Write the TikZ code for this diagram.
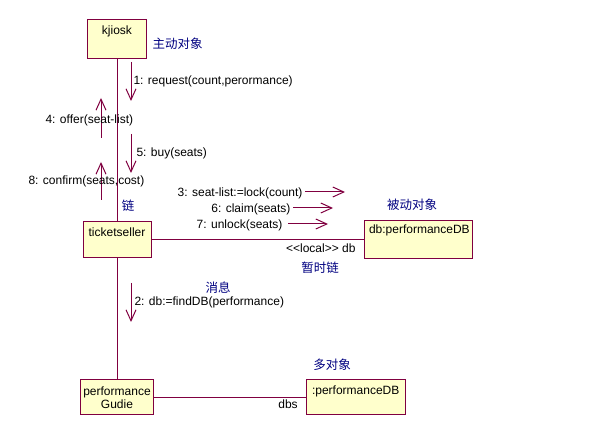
\documentclass[tikz,border=0pt]{standalone}
\usepackage{fontspec}
\setmainfont{Liberation Sans}[Ligatures=TeXOff]
\newfontfamily\cjk{Noto Sans CJK SC}
\usetikzlibrary{arrows.meta}
\definecolor{umlline}{RGB}{128,0,64}
\definecolor{umlfill}{RGB}{255,255,204}
\definecolor{notecol}{RGB}{0,0,128}
\begin{document}
\begin{tikzpicture}[x=1pt,y=-1pt,line width=1pt,
  obj/.style={draw=umlline,fill=umlfill,inner sep=3pt,font=\fontsize{12}{13}\selectfont},
  lnk/.style={draw=umlline},
  msg/.style={draw=umlline,-{Straight Barb[length=11pt,width=10pt]}},
  txt/.style={inner sep=0pt,font=\fontsize{12}{13}\selectfont},
  note/.style={inner sep=0pt,text=notecol,font=\cjk\fontsize{12.5}{14}\selectfont}]
  \useasboundingbox (0,0) rectangle (611,435);
  % objects
  \node[obj,minimum width=59pt,text height=12pt,text depth=21pt] (kjiosk) at (117,39.5) {kjiosk};
  \node[obj,minimum width=68pt,text height=12pt,text depth=18pt] (seller) at (117,240) {ticketseller};
  \node[obj,inner xsep=5pt,text width=98pt,align=left,text height=10pt,text depth=22pt] (db) at (418,240) {db:performanceDB};
  \node[obj,minimum width=72pt,minimum height=35pt,align=center] (perf) at (117,397.5) {performance\\Gudie};
  \node[obj,inner xsep=6pt,text width=87pt,align=left,text height=12pt,text depth=17pt] (pdb) at (355.5,397.5) {:performanceDB};
  % links
  \draw[lnk] (kjiosk) -- (seller);
  \draw[lnk] (seller) -- (perf);
  \draw[lnk] (seller) -- (db);
  \draw[lnk] (perf) -- (pdb);
  % messages
  \foreach \m/\xa/\ya/\xb/\yb in {1/131/62/131/101, 4/101/138/101/98, 5/131/134/131/173,
      8/101/200/101/162, 3/305/192/345/192, 6/293/208/333/208, 7/288/224/328/224, 2/131/283/131/322}{
    \coordinate (m\m s) at (\xa,\ya);
    \coordinate (m\m e) at (\xb,\yb);
    \draw[msg] (m\m s) -- (m\m e);
  }
  \node[txt,anchor=west] (l1) at (133,81) {1: request(count,perormance)};
  \node[txt,anchor=west] (l4) at (45,120) {4: offer(seat-list)};
  \node[txt,anchor=west] (l5) at (136,153) {5: buy(seats)};
  \node[txt,anchor=west] (l8) at (28,181) {8: confirm(seats,cost)};
  \node[txt,anchor=east] (l3) at (303,193) {3: seat-list:=lock(count)};
  \node[txt,anchor=east] (l6) at (291,209) {6: claim(seats)};
  \node[txt,anchor=east] (l7) at (283,225) {7: unlock(seats)};
  \node[txt,anchor=west] (l2) at (134,302) {2: db:=findDB(performance)};
  \node[txt,anchor=east] (role) at (356,248) {<<local>> db};
  \node[txt] (dbs) at (288,404) {dbs};
  % notes
  \node[note] (active) at (177.5,44) {主动对象};
  \node[note] (link) at (128,206) {链};
  \node[note] (passive) at (412,205) {被动对象};
  \node[note] (tmplink) at (320,268) {暂时链};
  \node[note] (message) at (218,288) {消息};
  \node[note] (multi) at (332,365) {多对象};
\end{tikzpicture}
\end{document}
